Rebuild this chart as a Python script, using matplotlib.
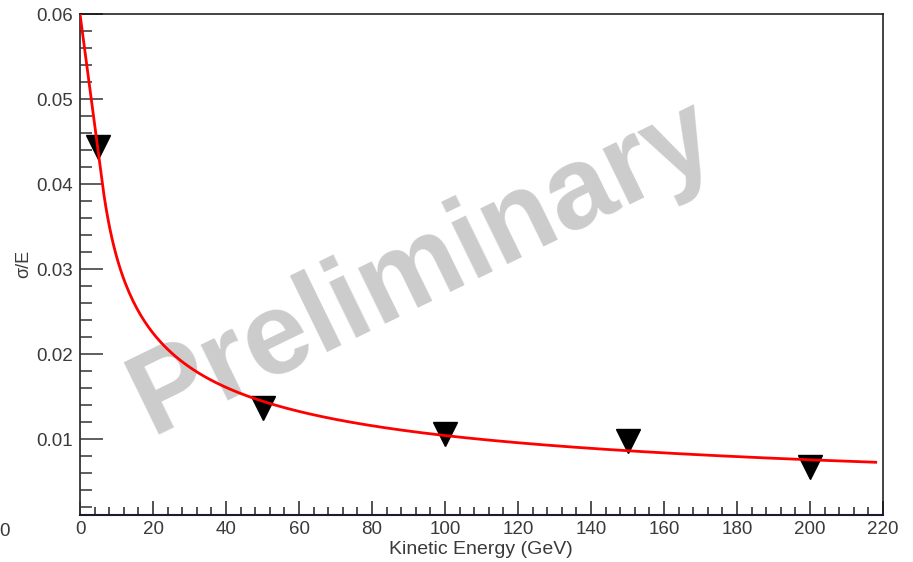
import numpy as np
import matplotlib
matplotlib.use("Agg")
import matplotlib.pyplot as plt
from matplotlib.ticker import FixedLocator, MultipleLocator

plt.rcParams["font.family"] = ["Liberation Sans", "DejaVu Sans"]

# Measured energy resolution
energy = [5, 50, 100, 150, 200]
resolution = [0.0444, 0.0136, 0.0106, 0.0098, 0.0067]

# Fit: sigma/E = p0/sqrt(E) + p1
fit_p0 = 0.0975
fit_p1 = 0.00066
fit_range = (0.0, 218.0)

x_limits = (0, 220)
y_limits = (0.00106, 0.06)
x_major_ticks = [0, 20, 40, 60, 80, 100, 120, 140, 160, 180, 200, 220]
x_tick_labels = ["0", "20", "40", "60", "80", "100", "120", "140", "160", "180", "200", "220"]
y_major_ticks = [0.01, 0.02, 0.03, 0.04, 0.05, 0.06]
y_tick_labels = ["0.01", "0.02", "0.03", "0.04", "0.05", "0.06"]

x_title = "Kinetic Energy (GeV)"
y_title = "σ/E"
watermark = "Preliminary"

W, H = 913, 562
fig = plt.figure(figsize=(W / 100, H / 100), dpi=100)
ax = fig.add_axes([80 / W, 47 / H, 803 / W, 501 / H])

text_col = "#3a3a3a"


def fit_func(e):
    with np.errstate(divide="ignore"):
        return fit_p0 / np.sqrt(e) + fit_p1


# First sample sits at the range start and is pinned to the frame top,
# the rest of the function is sampled finely.
e_curve = np.concatenate(([fit_range[0]], np.linspace(6.0, fit_range[1], 400)))
f_curve = np.minimum(fit_func(e_curve), y_limits[1])

ax.plot(energy, resolution, linestyle="none", marker="v", markersize=17,
        color="black", zorder=2)
ax.plot(e_curve, f_curve, color="#ff0000", linewidth=2.0, zorder=3)

ax.text(151 / W, 1 - 434 / H, watermark, transform=fig.transFigure,
        rotation=26, rotation_mode="anchor", ha="left", va="baseline",
        fontsize=84, fontweight="bold", color="#cccccc", zorder=1.5)

ax.set_xlim(*x_limits)
ax.set_ylim(*y_limits)

ax.xaxis.set_major_locator(FixedLocator(x_major_ticks))
ax.set_xticklabels(x_tick_labels)
ax.xaxis.set_minor_locator(MultipleLocator(4))
ax.yaxis.set_major_locator(FixedLocator(y_major_ticks))
ax.set_yticklabels(y_tick_labels)
ax.yaxis.set_minor_locator(MultipleLocator(0.002))

ax.tick_params(axis="x", which="major", direction="in", length=10, width=1.1,
               color="#222222", labelsize=13.5, labelcolor=text_col, pad=4,
               top=False)
ax.tick_params(axis="x", which="minor", direction="in", length=5.8, width=1.1,
               color="#222222", top=False)
ax.tick_params(axis="y", which="major", direction="in", length=16.5, width=1.1,
               color="#333333", labelsize=13.5, labelcolor=text_col, pad=5,
               right=False)
ax.tick_params(axis="y", which="minor", direction="in", length=8.6, width=1.1,
               color="#333333", right=False)

for side in ["top", "right"]:
    ax.spines[side].set_color("#111111")
    ax.spines[side].set_linewidth(1.1)
ax.spines["left"].set_color("#333333")
ax.spines["left"].set_linewidth(1.3)
ax.spines["bottom"].set_color("#1a1a33")
ax.spines["bottom"].set_linewidth(1.5)

fig.text(573 / W, 1 - 550 / H, x_title, ha="right", va="center",
         fontsize=14, color=text_col)
fig.text(24 / W, 1 - 264 / H, y_title, ha="center", va="center",
         rotation=90, fontsize=13, color=text_col)
fig.text(10 / W, 1 - 532 / H, "0", ha="right", va="center",
         fontsize=13.5, color=text_col)

fig.savefig("out.png", dpi=100, facecolor="white")
